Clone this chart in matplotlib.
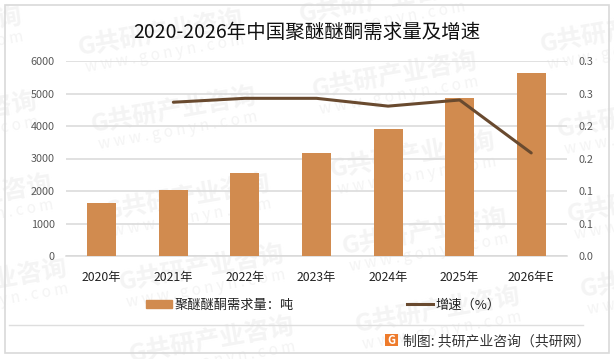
import matplotlib.pyplot as plt
from matplotlib.lines import Line2D
from matplotlib.patches import Patch, Rectangle

plt.rcParams["font.family"] = ["Noto Sans CJK SC", "DejaVu Sans"]

W, H = 614, 359

years = ["2020年", "2021年", "2022年", "2023年", "2024年", "2025年", "2026年E"]
demand = [1631, 2031, 2554, 3170, 3908, 4862, 5631]
growth_years = [1, 2, 3, 4, 5, 6]
growth = [0.276, 0.283, 0.283, 0.269, 0.280, 0.185]

title = "2020-2026年中国聚醚醚酮需求量及增速"
bar_label = "聚醚醚酮需求量：吨"
line_label = "增速（%）"
source = "制图: 共研产业咨询（共研网）"

BAR = "#D18B4F"
LINE = "#694A2F"
GRID = "#D9D9D9"
MARK = "#F4F4F4"

# watermark centres in pixels
marks = [
    (-60, 30), (-45, 115), (-30, 198), (-15, 282),
    (161, 33), (174, 110), (188, 197), (202, 268), (212, 340),
    (382, 0), (395, 75), (413, 155), (425, 232), (438, 310),
    (623, 30), (640, 115), (650, 200), (663, 275),
]


def fx(px):
    return px / W


def fy(px):
    return 1 - px / H


fig = plt.figure(figsize=(W / 100, H / 100), dpi=100, facecolor="white")

for mx, my in marks:
    fig.text(fx(mx), fy(my), "G共研产业咨询", fontsize=18, fontweight="bold", color=MARK,
             rotation=10, ha="center", va="center", zorder=-2)
    fig.text(fx(mx + 4), fy(my + 21), "w w w . g o n y n . c o m", fontsize=11, color=MARK,
             rotation=10, ha="center", va="center", zorder=-2)

# frame and footer rule
fig.add_artist(Rectangle((fx(4.5), fy(353)), 604 / W, 348.5 / H, transform=fig.transFigure,
                         fill=False, edgecolor=GRID, linewidth=1.2, zorder=5))
fig.add_artist(Line2D([fx(8.5), fx(583)], [fy(324.7), fy(324.7)], color="#DEDEDE", linewidth=1))

ax = fig.add_axes([fx(66), fy(256), 501 / W, 195 / H])
ax.patch.set_visible(False)
ax.bar(range(len(years)), demand, width=0.405, color=BAR, zorder=3)
ax.set_xlim(-0.5, 6.5)
ax.set_ylim(0, 6000)
ax.set_yticks(range(0, 6001, 1000))
ax.set_xticks(range(len(years)))
ax.set_xticklabels(years, fontsize=8.8, color="#222222")
ax.tick_params(axis="x", length=0, pad=11)
ax.tick_params(axis="y", length=0, pad=8, labelsize=7.8, labelcolor="#595959")
ax.grid(axis="y", color=GRID, linewidth=1.1, zorder=1)
for s in ("top", "left", "right"):
    ax.spines[s].set_visible(False)
ax.spines["bottom"].set_color(GRID)
ax.spines["bottom"].set_linewidth(1.1)

ax2 = ax.twinx()
ax2.plot(growth_years, growth, color=LINE, linewidth=2.2, solid_capstyle="round", zorder=4)
ax2.set_ylim(0, 0.35)
ax2.set_yticks([i * 0.35 / 6 for i in range(7)])
ax2.set_yticklabels(["0.0", "0.1", "0.1", "0.2", "0.2", "0.3", "0.3"])
ax2.tick_params(axis="y", length=0, pad=8.5, labelsize=7.8, labelcolor="#595959")
for s in ax2.spines.values():
    s.set_visible(False)

fig.text(fx(306.5), fy(32), title, fontsize=14, color="#111111", ha="center", va="center")

fig.legend(
    handles=[Patch(color=BAR, label=bar_label), Line2D([0], [0], color=LINE, linewidth=2.2, label=line_label)],
    loc="center left", bbox_to_anchor=(fx(146), fy(305)), ncols=2, frameon=False, fontsize=9.5,
    borderpad=0, borderaxespad=0, handlelength=2.0, handleheight=0.6, handletextpad=0.15,
    columnspacing=8.6, labelcolor="#222222",
)

# logo
fig.add_artist(Rectangle((fx(385), fy(346)), 13 / W, 12 / H, transform=fig.transFigure,
                         facecolor="#EE7B2C", edgecolor="none"))
fig.text(fx(391.5), fy(340), "G", fontsize=8, fontweight="bold", color="white", ha="center", va="center")
fig.text(fx(403), fy(341), source, fontsize=10, color="#333333", ha="left", va="center")

fig.savefig("out.png", dpi=100)
plt.close(fig)
